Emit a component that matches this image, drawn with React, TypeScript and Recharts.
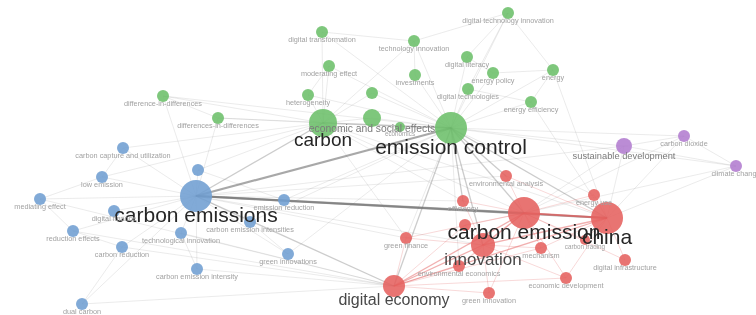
import { ReferenceLine, Scatter, ScatterChart, XAxis, YAxis } from "recharts";

// VOSviewer-style keyword co-occurrence map (layout coordinates)
const nodeLabels = [
  "digital technology innovation", "digital transformation", "technology innovation", "digital literacy",
  "moderating effect", "energy policy", "energy", "investments", "digital technologies", "heterogeneity",
  "", "difference-in-differences", "energy efficiency", "differences-in-differences",
  "economic and social effects", "carbon", "emission control", "economics",
  "sustainable development", "carbon dioxide", "climate change",
  "carbon capture and utilization", "", "carbon emissions", "low emission", "mediating effect",
  "digital finance", "emission reduction", "carbon emission intensities", "technological innovation",
  "reduction effects", "carbon reduction", "green innovations", "carbon emission intensity", "dual carbon",
  "environmental analysis", "energy use", "efficiency", "carbon emission", "china", "", "green finance",
  "innovation", "mechanism", "carbon trading", "digital infrastructure", "environmental economics",
  "economic development", "digital economy", "green innovation",
];
const nodeX = [
  508, 322, 414, 467, 329, 493, 553, 415, 468, 308, 372, 163, 531, 218, 372, 323, 451, 400,
  624, 684, 736,
  123, 198, 196, 102, 40, 114, 284, 250, 181, 73, 122, 288, 197, 82,
  506, 594, 463, 524, 607, 465, 406, 483, 541, 585, 625, 459, 566, 394, 489,
];
const nodeY = [
  13, 32, 41, 57, 66, 73, 70, 75, 89, 95, 93, 96, 102, 118, 118, 123, 128, 127,
  146, 136, 166,
  148, 170, 196, 177, 199, 211, 200, 222, 233, 231, 247, 254, 269, 304,
  176, 195, 201, 213, 218, 225, 238, 245, 248, 240, 260, 266, 278, 286, 293,
];
const nodeWeight = [
  6, 6, 6, 6, 6, 6, 6, 6, 6, 6, 6, 6, 6, 6, 9, 14, 16, 5,
  8, 6, 6,
  6, 6, 16, 6, 6, 6, 6, 6, 6, 6, 6, 6, 6, 6,
  6, 6, 6, 16, 16, 6, 6, 12, 6, 5, 6, 6, 6, 11, 6,
];
const nodeCluster = [
  1, 1, 1, 1, 1, 1, 1, 1, 1, 1, 1, 1, 1, 1, 1, 1, 1, 1,
  4, 4, 4,
  2, 2, 2, 2, 2, 2, 2, 2, 2, 2, 2, 2, 2, 2,
  3, 3, 3, 3, 3, 3, 3, 3, 3, 3, 3, 3, 3, 3, 3,
];

// links: [from, to, strength]
const links: [number, number, number][] = [
  [16, 0, 1], [16, 1, 1], [16, 2, 1], [16, 3, 1], [16, 4, 1], [16, 5, 1], [16, 6, 1], [16, 7, 1],
  [16, 8, 1], [16, 9, 1], [16, 10, 1], [16, 11, 1], [16, 12, 1], [16, 13, 1], [16, 14, 1], [16, 15, 2],
  [16, 17, 1], [16, 18, 1], [16, 23, 3], [16, 27, 1], [16, 28, 1], [16, 35, 2], [16, 36, 1], [16, 37, 2],
  [16, 38, 2], [16, 39, 2], [16, 41, 1], [16, 42, 2], [16, 48, 2], [16, 46, 1], [16, 32, 1], [16, 19, 1],
  [16, 20, 1],
  [23, 15, 2], [23, 21, 1], [23, 22, 1], [23, 24, 1], [23, 25, 1], [23, 26, 1], [23, 27, 1], [23, 28, 1],
  [23, 29, 1], [23, 30, 1], [23, 31, 1], [23, 32, 1], [23, 33, 1], [23, 34, 1], [23, 38, 3], [23, 39, 3],
  [23, 48, 2], [23, 42, 1], [23, 11, 1], [23, 13, 1], [23, 37, 1], [23, 41, 1], [23, 35, 1], [23, 18, 1],
  [38, 39, 3], [38, 42, 2], [38, 48, 2], [38, 35, 1], [38, 36, 1], [38, 37, 1], [38, 40, 1], [38, 41, 1],
  [38, 43, 1], [38, 44, 1], [38, 45, 1], [38, 46, 1], [38, 47, 1], [38, 49, 1], [38, 18, 1], [38, 19, 1],
  [38, 20, 1], [38, 15, 1],
  [39, 42, 2], [39, 48, 2], [39, 43, 1], [39, 44, 1], [39, 45, 1], [39, 47, 1], [39, 18, 1], [39, 19, 1],
  [39, 20, 1], [39, 36, 1], [39, 35, 1], [39, 15, 1], [39, 12, 1], [39, 6, 1],
  [15, 1, 1], [15, 4, 1], [15, 9, 1], [15, 11, 1], [15, 13, 1], [15, 14, 1], [15, 10, 1], [15, 2, 1],
  [15, 21, 1], [15, 24, 1], [15, 22, 1], [15, 37, 1], [15, 41, 1],
  [48, 42, 2], [48, 41, 1], [48, 46, 1], [48, 49, 1], [48, 47, 1], [48, 43, 1], [48, 25, 1], [48, 34, 1],
  [48, 30, 1], [48, 31, 1], [48, 33, 1], [48, 29, 1], [48, 40, 1],
  [42, 41, 1], [42, 46, 1], [42, 40, 1], [42, 43, 1], [42, 49, 1], [42, 37, 1], [42, 47, 1],
  [0, 2, 1], [0, 3, 1], [0, 6, 1], [0, 8, 1], [2, 7, 1], [3, 5, 1], [5, 6, 1], [6, 12, 1], [8, 12, 1],
  [18, 19, 1], [19, 20, 1], [18, 20, 1], [11, 13, 1], [21, 24, 1], [24, 25, 1], [25, 30, 1], [30, 31, 1],
  [31, 34, 1], [29, 33, 1], [28, 32, 1], [22, 27, 1], [1, 2, 1], [4, 9, 1],
];

const CLUSTER_COLORS: Record<number, string> = {
  1: "#6cbf6a",
  2: "#6f9ed2",
  3: "#e5615f",
  4: "#b27ccf",
};

const nodes = nodeLabels.map((label, i) => ({
  label,
  x: nodeX[i],
  y: nodeY[i],
  w: nodeWeight[i],
  cluster: nodeCluster[i],
}));

const NodeDot = (props: any) => {
  const { cx, cy, payload } = props;
  return (
    <circle cx={cx} cy={cy} r={payload.w} fill={CLUSTER_COLORS[payload.cluster]} fillOpacity={0.88} />
  );
};

const NodeLabel = (props: any) => {
  const { cx, cy, payload } = props;
  if (!payload.label) return <g />;
  const w = payload.w;
  const big = w >= 10;
  const fontSize = big ? w + 5 : w + 1.3;
  const fill = w >= 14 ? "#262626" : big ? "#484848" : w >= 8 ? "#7a7a7a" : "#a2a2a2";
  return (
    <text
      x={cx}
      y={cy + w + (big ? 2.5 : 1.5)}
      textAnchor="middle"
      dominantBaseline="central"
      fontSize={fontSize}
      fill={fill}
      fontFamily="'Liberation Sans', Arial, sans-serif"
    >
      {payload.label}
    </text>
  );
};

export default function App() {
  return (
    <div
      style={{
        position: "absolute",
        left: 0,
        top: 0,
        width: 756,
        height: 315,
        background: "#fff",
        overflow: "hidden",
        filter: "blur(0.4px)",
      }}
    >
      <ScatterChart width={756} height={315} margin={{ top: 0, right: 0, bottom: 0, left: 0 }}>
        <XAxis type="number" dataKey="x" domain={[0, 756]} hide />
        <YAxis type="number" dataKey="y" domain={[0, 315]} reversed hide />
        {links.map(([a, b, s], i) => {
          const red = nodeCluster[a] === 3 && nodeCluster[b] === 3;
          const alpha = s === 3 ? 0.6 : s === 2 ? 0.35 : 0.18;
          return (
            <ReferenceLine
              key={i}
              segment={[
                { x: nodeX[a], y: nodeY[a] },
                { x: nodeX[b], y: nodeY[b] },
              ]}
              stroke={red ? `rgba(225,80,80,${alpha + 0.1})` : `rgba(110,110,110,${alpha})`}
              strokeWidth={s === 3 ? 2.2 : s === 2 ? 1.3 : 0.8}
              ifOverflow="visible"
            />
          );
        })}
        <Scatter data={nodes} shape={NodeDot} isAnimationActive={false} />
        <Scatter data={nodes} shape={NodeLabel} isAnimationActive={false} />
      </ScatterChart>
    </div>
  );
}
